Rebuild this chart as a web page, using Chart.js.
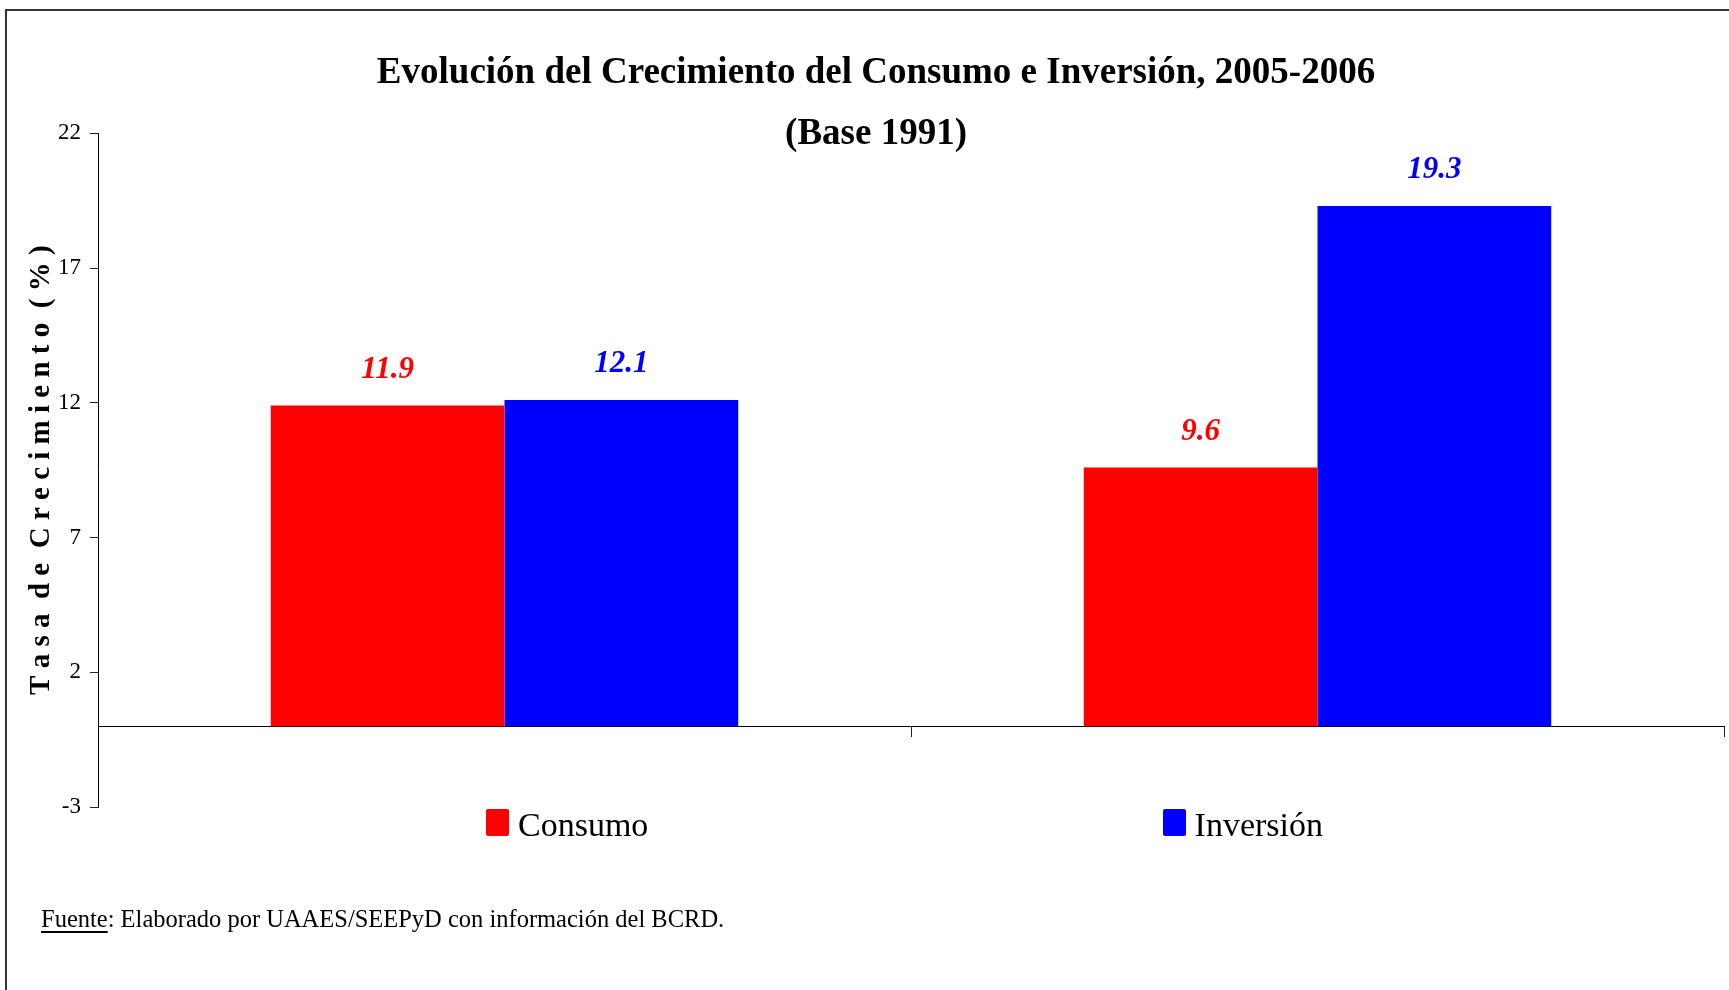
<!DOCTYPE html>
<html lang="es">
<head>
<meta charset="utf-8">
<title>Evolución del Crecimiento del Consumo e Inversión, 2005-2006</title>
<script src="https://cdn.jsdelivr.net/npm/chart.js@4.4.1/dist/chart.umd.min.js"></script>
<style>
    body { margin: 0; background: #fff; }
    #wrap { position: relative; width: 1729px; height: 990px; overflow: hidden; }
    #frame {
        position: absolute; left: 5px; top: 9px; right: -10px; bottom: -10px;
        border-left: 2px solid #333; border-top: 2px solid #333;
        pointer-events: none;
    }
    #legend {
        position: absolute; left: 486px; top: 800px; width: 837px; height: 44px;
        display: flex; justify-content: space-between; align-items: center;
        font: 34px "Liberation Serif", serif; color: #000;
    }
    #legend .item { display: flex; align-items: center; }
    #legend .box { width: 23px; height: 27px; border-radius: 2px; margin-right: 9px; }
    #legend .text { line-height: 1; padding-top: 6px; }
    #fuente {
        position: absolute; left: 41px; top: 907px;
        font: 24.5px "Liberation Serif", serif; line-height: 1; color: #000;
    }
    #fuente u { text-decoration-thickness: 2px; text-underline-offset: 4px; }
</style>
</head>
<body>
<div id="wrap">
    <canvas id="crecimientoChart" width="1729" height="990"></canvas>
    <div id="legend"></div>
    <div id="fuente"><u>Fuente</u>: Elaborado por UAAES/SEEPyD con información del BCRD.</div>
    <div id="frame"></div>
</div>
<script>
const years = ['2005', '2006'];
const consumo = [11.9, 9.6];
const inversion = [12.1, 19.3];
const yTicks = [-3, 2, 7, 12, 17, 22];

const barValueLabels = {
    id: 'barValueLabels',
    afterDatasetsDraw(chart) {
        const { ctx } = chart;
        ctx.save();
        ctx.font = 'italic bold 31px "Liberation Serif"';
        ctx.textAlign = 'center';
        ctx.textBaseline = 'middle';
        chart.data.datasets.forEach((dataset, i) => {
            chart.getDatasetMeta(i).data.forEach((bar, j) => {
                ctx.fillStyle = dataset.backgroundColor;
                ctx.fillText(dataset.data[j].toFixed(1), bar.x, bar.y - 36);
            });
        });
        ctx.restore();
    }
};

const chartCanvas = document.getElementById('crecimientoChart').getContext('2d');

const crecimientoChart = new Chart(chartCanvas, {
    type: 'bar',
    data: {
        labels: years,
        datasets: [
            {
                label: 'Consumo',
                data: consumo,
                backgroundColor: '#FF0000',
                categoryPercentage: 0.575,
                barPercentage: 1.0,
            },
            {
                label: 'Inversión',
                data: inversion,
                backgroundColor: '#0000FF',
                categoryPercentage: 0.575,
                barPercentage: 1.0,
            },
        ],
    },
    options: {
        responsive: false,
        animation: false,
        events: [],
        layout: {
            padding: { top: 12, left: 28, right: 5, bottom: 183 },
        },
        scales: {
            x: {
                position: { y: 0 },
                z: 1,
                grid: {
                    offset: true,
                    drawOnChartArea: false,
                    drawTicks: true,
                    tickLength: 10,
                    color: '#222',
                },
                border: { color: '#000', width: 1 },
                ticks: { display: false },
            },
            y: {
                min: yTicks[0],
                max: yTicks[yTicks.length - 1],
                afterBuildTicks: (scale) => {
                    scale.ticks = yTicks.map((v) => ({ value: v }));
                },
                afterFit: (scale) => {
                    scale.width = 70;
                },
                grid: {
                    drawOnChartArea: false,
                    tickLength: 8,
                    color: '#222',
                },
                border: { color: '#000', width: 1 },
                ticks: {
                    padding: 9,
                    color: '#000',
                    font: { family: '"Liberation Serif"', size: 23 },
                },
                title: {
                    display: true,
                    text: 'T a s a  d e  C r e c i m i e n t o  ( % )',
                    color: '#000',
                    padding: { top: -4, bottom: 0 },
                    font: { family: '"Liberation Serif"', size: 29, weight: 'bold' },
                },
            },
        },
        plugins: {
            legend: { display: false },
            tooltip: { enabled: false },
            title: {
                display: true,
                text: [
                    'Evolución del Crecimiento del Consumo e Inversión, 2005-2006',
                    '(Base 1991)',
                ],
                color: '#000',
                padding: { top: 31, bottom: -31 },
                font: { family: '"Liberation Serif"', size: 37, weight: 'bold', lineHeight: 1.64 },
            },
        },
    },
    plugins: [barValueLabels],
});

// legend in HTML so the two entries can sit far apart like the original
const legendBox = document.getElementById('legend');
crecimientoChart.data.datasets.forEach((dataset) => {
    const item = document.createElement('div');
    item.className = 'item';
    item.innerHTML = `<span class="box" style="background:${dataset.backgroundColor}"></span><span class="text">${dataset.label}</span>`;
    legendBox.appendChild(item);
});
</script>
</body>
</html>
